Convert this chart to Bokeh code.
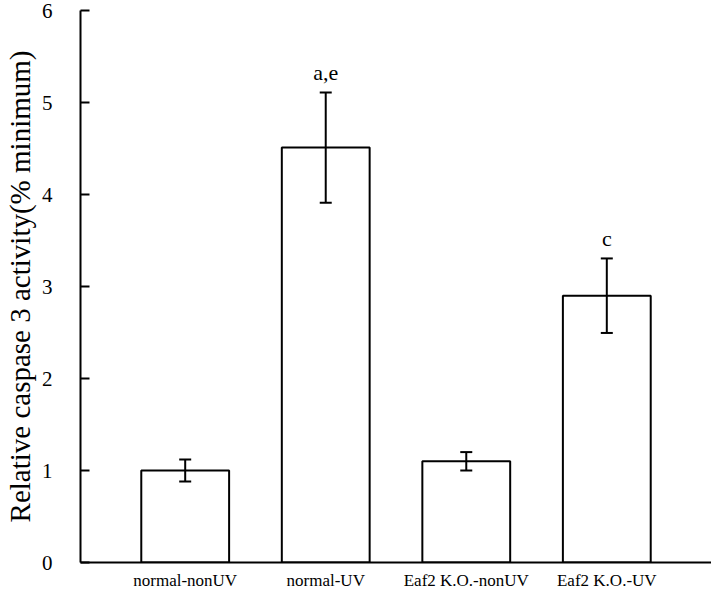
from bokeh.plotting import figure
from bokeh.models import FactorRange, Range1d, SingleIntervalTicker, ColumnDataSource, Whisker, TeeHead
from bokeh.core.properties import value
from bokeh.embed import file_html
from bokeh.resources import INLINE

categories = ["normal-nonUV", "normal-UV", "Eaf2 K.O.-nonUV", "Eaf2 K.O.-UV"]
activity = [1.0, 4.51, 1.1, 2.9]
errors = [0.12, 0.6, 0.1, 0.405]
marks = ["", "a,e", "", "c"]

FONT = "Liberation Serif"

upper = [v + e for v, e in zip(activity, errors)]
lower = [v - e for v, e in zip(activity, errors)]
src = ColumnDataSource(dict(cat=categories, val=activity, upper=upper, lower=lower, mark=marks))

p = figure(x_range=FactorRange(factors=categories, range_padding=0.1225),
           y_range=Range1d(0, 6),
           width=711, height=592, output_backend="svg", toolbar_location=None,
           min_border_left=72, min_border_right=0, min_border_top=10, min_border_bottom=20)
p.outline_line_color = None
p.xgrid.grid_line_color = None
p.ygrid.grid_line_color = None
p.background_fill_color = "white"

p.vbar(x="cat", top="val", width=0.625, source=src, fill_color="white",
       line_color="black", line_width=2)

w = Whisker(base="cat", upper="upper", lower="lower", source=src, line_color="black", line_width=2,
            upper_head=TeeHead(size=12, line_color="black", line_width=2),
            lower_head=TeeHead(size=12, line_color="black", line_width=2),
            level="overlay")
p.add_layout(w)

p.text(x="cat", y="upper", text="mark", source=src, text_font=value(FONT), text_font_size="22px",
       text_align="center", text_baseline="bottom", y_offset=-7, text_color="black")

ya = p.yaxis[0]
ya.ticker = SingleIntervalTicker(interval=1)
ya.minor_tick_line_color = None
ya.major_tick_in = 9
ya.major_tick_out = 0
ya.major_tick_line_width = 2
ya.axis_line_width = 2
ya.axis_line_color = "black"
ya.major_tick_line_color = "black"
ya.major_label_text_font = FONT
ya.major_label_text_font_size = "21px"
ya.major_label_text_color = "black"
ya.major_label_standoff = 24
ya.axis_label = "Relative caspase 3 activity(% minimum)"
ya.axis_label_text_font = FONT
ya.axis_label_text_font_size = "29px"
ya.axis_label_text_font_style = "normal"
ya.axis_label_text_color = "black"
ya.axis_label_standoff = 3

xa = p.xaxis[0]
xa.major_tick_line_color = None
xa.major_tick_in = 0
xa.major_tick_out = 0
xa.minor_tick_line_color = None
xa.axis_line_width = 2
xa.axis_line_color = "black"
xa.major_label_text_font = FONT
xa.major_label_text_font_size = "17px"
xa.major_label_text_color = "black"
xa.major_label_standoff = 8
xa.axis_label_standoff = 0

open("out.html", "w").write(file_html(p, INLINE))
